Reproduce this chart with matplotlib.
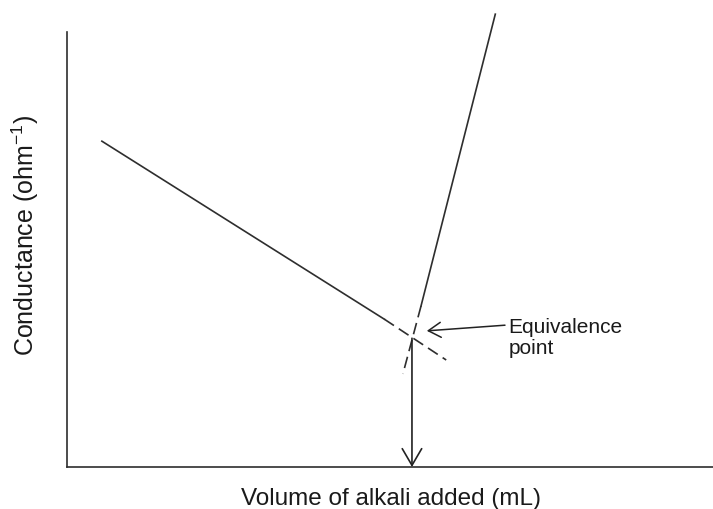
import matplotlib
matplotlib.use("Agg")
import matplotlib.pyplot as plt

plt.rcParams['font.family'] = ['Liberation Sans', 'DejaVu Sans']
plt.rcParams['mathtext.fontset'] = 'custom'
plt.rcParams['mathtext.rm'] = 'Liberation Sans'
plt.rcParams['mathtext.it'] = 'Liberation Sans'

# conductance falls as H+ is neutralised (solid part, then dashed extrapolation)
acid_vol = [0.54, 4.91]
acid_cond = [7.49, 3.40]
acid_ext_vol = [4.91, 5.87]
acid_ext_cond = [3.40, 2.46]

# conductance rises after equivalence (excess OH-)
base_vol = [6.63, 5.48]
base_cond = [10.41, 3.70]
base_ext_vol = [5.48, 5.20]
base_ext_cond = [3.70, 2.14]

eq_vol, eq_cond = 5.34, 3.01
label_xy = (6.78, 3.26)
label_head = (5.57, 3.13)

line_col = "#2e2e2e"

fig = plt.figure(figsize=(7.13, 5.10), dpi=100)
ax = fig.add_axes([0, 42 / 510, 1, 468 / 510])
ax.set_xlim(-67 / 64.6, 10)
ax.set_ylim(0, 468 / 43.5)

ax.plot(acid_vol, acid_cond, color=line_col, lw=1.2)
ax.plot(acid_ext_vol, acid_ext_cond, color=line_col, lw=1.2, dashes=(7, 3.5))
ax.plot(base_vol, base_cond, color=line_col, lw=1.2)
ax.plot(base_ext_vol, base_ext_cond, color=line_col, lw=1.2, dashes=(7, 3.5))

# drop from equivalence point to the volume axis
ax.annotate("", xy=(eq_vol, 0), xytext=(eq_vol, eq_cond - 0.05),
            arrowprops=dict(arrowstyle="->,head_length=0.6,head_width=0.35",
                            mutation_scale=20, color="#222222", lw=1.2,
                            shrinkA=0, shrinkB=0))
ax.annotate("", xy=label_head, xytext=label_xy,
            arrowprops=dict(arrowstyle="->,head_length=0.45,head_width=0.27",
                            mutation_scale=20, color="#222222", lw=1.1,
                            shrinkA=0, shrinkB=0))
ax.text(label_xy[0] + 0.05, 2.99, "Equivalence\npoint", ha="left", va="center",
        fontsize=15, color="#1a1a1a", linespacing=1.1)

for side in ["top", "right"]:
    ax.spines[side].set_visible(False)
ax.spines["left"].set_position(("data", 0))
ax.spines["left"].set_bounds(0, 10)
ax.spines["bottom"].set_bounds(0, 10)
for side in ["left", "bottom"]:
    ax.spines[side].set_linewidth(1.2)
    ax.spines[side].set_color(line_col)
ax.set_xticks([])
ax.set_yticks([])
ax.patch.set_visible(False)

fig.text(391 / 713, 1 - 499 / 510, "Volume of alkali added (mL)", ha="center",
         va="center", fontsize=17.5, color="#1a1a1a")
fig.text(25 / 713, 1 - 235 / 510, r"Conductance (ohm$^{-1}$)", ha="center",
         va="center", rotation=90, fontsize=18, color="#1a1a1a")

fig.savefig("out.png", dpi=100)
